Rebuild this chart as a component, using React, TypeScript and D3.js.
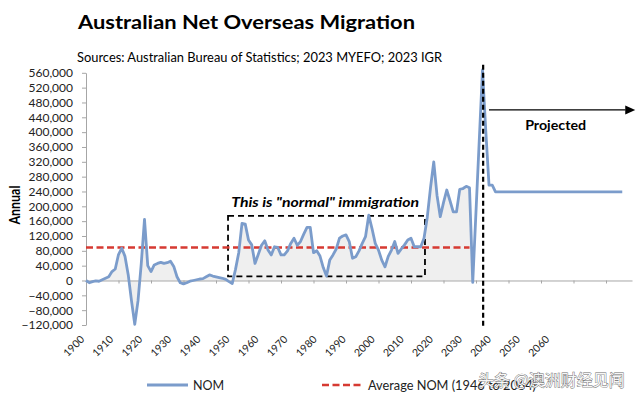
import React, { useEffect, useRef } from "react";
import * as d3 from "d3";

const W = 640;
const H = 398;
const FONT = "Lato, 'Open Sans', sans-serif";

// annual NOM, thousands of people, 1900 to 2019
const histStart = 1900;
const histNom = [
  0, -6, -3, -1, -2, 2, 6, 10, 24, 31,
  70, 87, 65, 15, -55, -118, -55, 45, 165, 40,
  24, 42, 46, 49, 46, 48, 52, 38, 10, -6,
  -9, -6, -2, 0, 2, 4, 5, 10, 15, 12,
  10, 8, 6, 3, -3, -8, 30, 75, 154, 152,
  109, 96, 46, 70, 95, 107, 82, 69, 91, 89,
  69, 69, 80, 100, 114, 95, 105, 125, 143, 143,
  75, 80, 66, 35, 12, 55, 69, 85, 114, 120,
  123, 105, 60, 64, 80, 100, 118, 176, 140, 100,
  82, 55, 37, 65, 82, 105, 73, 85, 96, 109,
  114, 91, 91, 91, 114, 170, 250, 320, 230, 172,
  210, 244, 215, 185, 185, 246, 248, 254, 250, -5,
];
// latest years and projection
const recentYears = [2022, 2023, 2024, 2025, 2026, 2065];
const recentNom = [568, 405, 257, 257, 239, 239];

const avgNom = 89;
const avgSpan = [1900, 2018];
const projectedYear = 2022.2;

const yTicks = [
  -120000, -80000, -40000, 0, 40000, 80000, 120000, 160000, 200000,
  240000, 280000, 320000, 360000, 400000, 440000, 480000, 520000, 560000,
];
const xLabels = [
  "1900", "1910", "1920", "1930", "1940", "1950", "1960", "1970", "1980",
  "1990", "2000", "2010", "2020", "2030", "2040", "2050", "2060",
];

type Pt = { year: number; v: number };

const App = () => {
  const ref = useRef<SVGSVGElement>(null);

  useEffect(() => {
    const svg = d3.select(ref.current);
    svg.selectAll("*").remove();

    const hist: Pt[] = histNom.map((v, i) => ({ year: histStart + i, v: v * 1000 }));
    const recent: Pt[] = recentYears.map((yr, i) => ({ year: yr, v: recentNom[i] * 1000 }));
    const all = hist.concat(recent);

    const x = d3.scaleLinear().domain([1900, 2068]).range([86, 632]);
    const y = d3.scaleLinear().domain([-120000, 560000]).range([325, 72.8]);

    svg.append("rect").attr("width", W).attr("height", H).attr("fill", "#fff");

    // titles
    svg.append("text")
      .attr("x", 78).attr("y", 28.5)
      .attr("font-family", FONT).attr("font-size", 19).attr("font-weight", "bold")
      .attr("textLength", 337).attr("lengthAdjust", "spacingAndGlyphs")
      .text("Australian Net Overseas Migration");
    svg.append("text")
      .attr("x", 77).attr("y", 62)
      .attr("font-family", FONT).attr("font-size", 13)
      .attr("textLength", 365).attr("lengthAdjust", "spacingAndGlyphs")
      .text("Sources: Australian Bureau of Statistics; 2023 MYEFO; 2023 IGR");

    // filled area for history
    const area = d3.area<Pt>().x(d => x(d.year)).y0(y(0)).y1(d => y(d.v));
    svg.append("path").attr("d", area(hist)).attr("fill", "#efefef");

    // y axis
    const yAxis = svg.append("g")
      .attr("transform", "translate(86,0)")
      .call(d3.axisLeft(y).tickValues(yTicks).tickSize(4).tickSizeOuter(0).tickPadding(9)
        .tickFormat(d => d3.format(",")(d as number)));
    yAxis.select(".domain").attr("stroke", "#a6a6a6");
    yAxis.selectAll(".tick line").attr("stroke", "#a6a6a6");
    yAxis.selectAll(".tick text")
      .attr("font-family", FONT).attr("font-size", 12).attr("fill", "#222");

    // zero axis
    const xAxis = svg.append("g")
      .attr("transform", `translate(0,${y(0)})`)
      .call(d3.axisBottom(x).tickValues(d3.range(1910, 2061, 10)).tickSize(3).tickSizeOuter(0)
        .tickFormat(() => ""));
    xAxis.select(".domain").attr("stroke", "#a6a6a6");
    xAxis.selectAll(".tick line").attr("stroke", "#a6a6a6");

    // rotated year labels
    const xl = d3.scalePoint<string>().domain(xLabels).range([85, 550]);
    svg.append("g").selectAll("text").data(xLabels).join("text")
      .attr("transform", d => `translate(${xl(d)},340) rotate(-45)`)
      .attr("text-anchor", "end")
      .attr("font-family", FONT).attr("font-size", 10.5).attr("fill", "#222")
      .text(d => d);

    // y axis title
    svg.append("text")
      .attr("transform", "translate(20,205) rotate(-90)")
      .attr("text-anchor", "middle")
      .attr("font-family", FONT).attr("font-size", 14.5).attr("font-weight", "bold")
      .attr("textLength", 39).attr("lengthAdjust", "spacingAndGlyphs")
      .text("Annual");

    // "normal" box
    const box = { y0: 1943.7, y1: 2004.3, lo: 11000, hi: 174000 };
    svg.append("rect")
      .attr("x", x(box.y0)).attr("y", y(box.hi))
      .attr("width", x(box.y1) - x(box.y0)).attr("height", y(box.lo) - y(box.hi))
      .attr("fill", "none").attr("stroke", "#000").attr("stroke-width", 1.8)
      .attr("stroke-dasharray", "6,4");
    svg.append("text")
      .attr("x", x(1973.6)).attr("y", y(199000))
      .attr("text-anchor", "middle")
      .attr("font-family", FONT).attr("font-size", 14).attr("font-weight", "bold").attr("font-style", "italic")
      .attr("textLength", 188).attr("lengthAdjust", "spacingAndGlyphs")
      .text("This is \"normal\" immigration");

    // average line
    svg.append("line")
      .attr("x1", x(avgSpan[0])).attr("x2", x(avgSpan[1]))
      .attr("y1", y(avgNom * 1000)).attr("y2", y(avgNom * 1000))
      .attr("stroke", "#d63a32").attr("stroke-width", 2.5).attr("stroke-dasharray", "7,3.5");

    // NOM line
    const line = d3.line<Pt>().x(d => x(d.year)).y(d => y(d.v));
    svg.append("path").attr("d", line(all))
      .attr("fill", "none").attr("stroke", "#7b9ccb").attr("stroke-width", 2.8)
      .attr("stroke-linejoin", "round");

    // projection divider
    svg.append("line")
      .attr("x1", x(projectedYear)).attr("x2", x(projectedYear))
      .attr("y1", y(582000)).attr("y2", y(-125000))
      .attr("stroke", "#000").attr("stroke-width", 2.2).attr("stroke-dasharray", "5,3");

    // arrow
    const ay = y(460000);
    svg.append("line")
      .attr("x1", x(2024)).attr("x2", x(2066))
      .attr("y1", ay).attr("y2", ay)
      .attr("stroke", "#000").attr("stroke-width", 1.2);
    const tip = x(2069);
    svg.append("path")
      .attr("d", `M${tip},${ay} L${tip - 10},${ay - 4.5} L${tip - 10},${ay + 4.5} Z`)
      .attr("fill", "#000");
    svg.append("text")
      .attr("x", x(2044.5)).attr("y", y(405000))
      .attr("text-anchor", "middle")
      .attr("font-family", FONT).attr("font-size", 14).attr("font-weight", "bold")
      .attr("textLength", 61).attr("lengthAdjust", "spacingAndGlyphs")
      .text("Projected");

    // legend
    const lg = svg.append("g");
    lg.append("line").attr("x1", 147).attr("x2", 188).attr("y1", 385).attr("y2", 385)
      .attr("stroke", "#7b9ccb").attr("stroke-width", 2.8);
    lg.append("text").attr("x", 193).attr("y", 390)
      .attr("font-family", FONT).attr("font-size", 12.5).attr("fill", "#222")
      .text("NOM");
    lg.append("line").attr("x1", 322).attr("x2", 364).attr("y1", 385).attr("y2", 385)
      .attr("stroke", "#d63a32").attr("stroke-width", 2.5).attr("stroke-dasharray", "7,3.5");
    lg.append("text").attr("x", 368).attr("y", 390)
      .attr("font-family", FONT).attr("font-size", 12.5).attr("fill", "#222")
      .attr("textLength", 168).attr("lengthAdjust", "spacingAndGlyphs")
      .text("Average NOM (1946 to 2064)");

    // watermark (overlaps the legend in the source image as well)
    svg.append("text").attr("x", 478).attr("y", 386)
      .attr("font-family", "'Noto Sans CJK SC', sans-serif").attr("font-size", 16)
      .attr("fill", "#f6f6f6").attr("stroke", "#6a6a6a").attr("stroke-width", 0.8)
      .attr("paint-order", "stroke")
      .text("头条 @澳洲财经见闻");
  }, []);

  return (
    <svg ref={ref} width={W} height={H}
      style={{ position: "absolute", left: 0, top: 0, display: "block" }} />
  );
};

export default App;
